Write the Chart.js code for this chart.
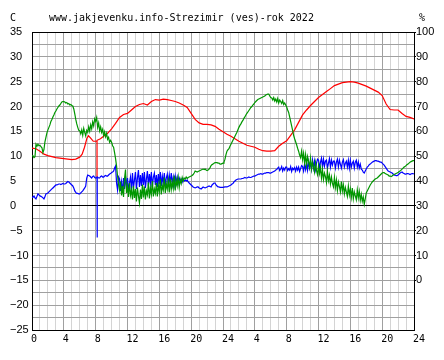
<!DOCTYPE html>
<html>
<head>
<meta charset="utf-8">
<title>Strezimir</title>
<script src="https://cdn.jsdelivr.net/npm/chart.js@4.4.1/dist/chart.umd.min.js"></script>
<style>
  html, body { margin: 0; padding: 0; background: #fff; }
  canvas { display: block; }
</style>
</head>
<body>
<canvas id="chart" width="444" height="360"></canvas>
<script>
// Header texts
const titleText = 'www.jakjevenku.info-Strezimir (ves)-rok 2022';
const leftUnit = 'C';
const rightUnit = '%';

// x axis: 48 hours, labelled every 4 hours as clock time
const hourLabels = ['0', '4', '8', '12', '16', '20', '24', '4', '8', '12', '16', '20', '24'];
const hourStep = 0.125;  // spacing of the humidity / dew point samples (7.5 min)

// Temperature (C) - red
const tempHours = [0, 0.5, 1, 1.5, 2, 2.5, 3, 3.5, 4, 4.5, 5, 5.5, 6, 6.3, 6.6, 6.9, 7.1, 7.4, 7.7, 8.17, 8.17, 8.17, 8.6,
  9, 9.5, 10, 10.5, 11, 11.5, 12, 12.5, 13, 13.5, 14, 14.5, 15, 15.5, 16, 16.5, 17, 17.5, 18, 18.5, 19, 19.5,
  20, 20.5, 21, 21.5, 22, 22.5, 23, 23.5, 24, 24.5, 25, 25.5, 26, 26.5, 27, 27.5, 28, 28.5, 29, 29.5,
  30, 30.5, 31, 31.5, 32, 32.5, 33, 33.5, 34, 34.5, 35, 35.5, 36, 36.5, 37, 37.5, 38, 38.5, 39, 39.5,
  40, 40.5, 41, 41.5, 42, 42.5, 43, 43.5, 44, 44.5, 45, 45.5, 46, 46.5, 47, 47.5, 48];
const tempC = [11.6, 11.5, 11.0, 10.4, 10.1, 9.9, 9.7, 9.6, 9.5, 9.4, 9.3, 9.4, 9.8, 10.4, 11.8, 13.6, 14.1, 13.6, 13.0, 13.0, 5.8, 13.2, 13.5,
  14.0, 14.6, 15.5, 16.6, 17.8, 18.4, 18.6, 19.3, 20.0, 20.4, 20.6, 20.3, 21.0, 21.4, 21.3, 21.5, 21.4, 21.2, 21.0, 20.7, 20.3, 19.8,
  18.6, 17.4, 16.7, 16.4, 16.4, 16.3, 16.0, 15.4, 14.9, 14.4, 14.0, 13.5, 13.0, 12.6, 12.2, 12.0, 11.8, 11.4, 11.1, 11.0,
  11.0, 11.1, 12.0, 12.6, 13.1, 14.2, 15.3, 16.8, 18.3, 19.3, 20.2, 21.0, 21.8, 22.4, 23.0, 23.6, 24.2, 24.5, 24.8, 24.9,
  25.0, 24.9, 24.7, 24.4, 24.1, 23.7, 23.3, 22.9, 22.2, 20.5, 19.4, 19.3, 19.3, 18.6, 18.0, 17.8, 17.5];

// Relative humidity (%) - green, 16 values per 2 hours
const humidity = [
  50.4, 50.0, 49.4, 49.8, 54.8, 54.0, 54.8, 54.2, 54.4, 53.8, 53.4, 51.4, 52.6, 55.8, 57.6, 59.4,
  60.6, 61.6, 62.6, 64.0, 64.8, 65.8, 66.6, 67.6, 68.2, 69.0, 69.6, 70.2, 70.6, 71.2, 71.8, 72.0,
  72.0, 71.8, 71.4, 71.6, 71.0, 71.2, 70.6, 70.8, 70.4, 70.2, 69.0, 67.0, 64.8, 63.0, 61.6, 60.4,
  60.2, 59.0, 60.6, 58.4, 61.2, 59.6, 58.2, 60.4, 59.6, 61.8, 60.0, 62.6, 61.0, 63.8, 62.2, 65.0,
  64.0, 65.6, 61.6, 63.4, 60.2, 61.8, 59.6, 60.8, 58.2, 59.8, 57.8, 59.2, 56.8, 57.6, 55.6, 56.4,
  55.6, 54.2, 53.6, 51.4, 49.0, 46.0, 42.0, 38.6, 36.4, 39.8, 34.2, 38.0, 33.6, 41.0, 44.6, 35.2,
  37.8, 33.6, 39.2, 34.2, 36.4, 32.6, 38.0, 33.2, 36.8, 31.8, 37.4, 34.0, 31.2, 36.6, 32.8, 38.6,
  33.4, 37.8, 32.6, 36.0, 34.4, 39.4, 33.0, 37.2, 34.6, 40.0, 33.8, 36.8, 35.0, 39.2, 33.8, 38.4,
  35.6, 40.8, 34.6, 38.2, 36.4, 41.4, 35.2, 39.0, 36.8, 40.2, 35.4, 41.0, 36.6, 39.6, 37.0, 42.2,
  36.2, 40.4, 38.0, 41.6, 37.4, 40.6, 39.0, 41.4, 40.0, 41.2, 40.8, 41.6, 41.0, 41.4, 41.6, 41.8,
  42.0, 42.2, 42.6, 43.2, 44.0, 43.8, 43.6, 43.8, 44.0, 44.2, 44.4, 44.6, 44.8, 44.6, 44.8, 44.4,
  44.2, 44.4, 44.8, 45.4, 46.2, 46.6, 46.8, 47.2, 47.4, 47.4, 47.4, 47.2, 47.2, 46.8, 46.8, 47.0,
  47.2, 47.6, 48.8, 50.6, 52.0, 52.6, 53.0, 54.0, 54.8, 55.6, 56.4, 57.2, 58.0, 58.8, 59.6, 60.6,
  61.6, 62.4, 63.0, 63.8, 64.4, 65.2, 65.8, 66.6, 67.2, 67.8, 68.4, 69.0, 69.6, 70.0, 70.6, 71.0,
  71.6, 72.0, 72.4, 72.8, 73.0, 73.2, 73.4, 73.6, 73.8, 74.0, 74.2, 74.6, 74.8, 75.0, 75.0, 74.2,
  73.6, 73.4, 72.6, 73.6, 72.2, 73.0, 71.8, 73.2, 71.4, 72.6, 72.0, 71.2, 72.4, 70.8, 71.4, 70.6,
  69.8, 68.6, 67.6, 65.8, 64.0, 62.2, 60.4, 58.4, 57.0, 55.8, 54.6, 53.2, 52.0, 50.4, 49.4, 52.0,
  48.6, 51.2, 47.2, 50.6, 46.4, 49.8, 47.8, 45.6, 49.2, 44.8, 47.6, 45.8, 43.6, 47.4, 44.2, 42.6,
  46.2, 43.0, 45.4, 41.2, 44.6, 40.6, 43.2, 41.8, 39.4, 43.8, 40.2, 42.4, 38.8, 41.6, 39.0, 37.6,
  41.4, 37.4, 40.4, 36.2, 39.6, 37.8, 35.6, 39.8, 36.0, 38.4, 34.8, 37.4, 35.6, 33.8, 38.0, 34.4,
  36.8, 33.4, 37.2, 32.8, 35.6, 34.0, 32.4, 36.4, 33.2, 35.8, 32.2, 34.6, 31.8, 33.6, 30.6, 32.8,
  35.2, 36.0, 36.8, 37.6, 38.4, 39.0, 39.6, 40.0, 40.4, 40.8, 41.0, 41.2, 41.6, 42.0, 42.4, 42.8,
  43.2, 43.4, 43.4, 43.0, 42.8, 42.6, 42.4, 42.0, 42.0, 41.8, 42.0, 42.4, 42.6, 42.8, 43.0, 43.2,
  43.4, 43.8, 44.0, 44.4, 44.8, 45.2, 45.6, 45.8, 46.2, 46.6, 46.8, 47.2, 47.6, 47.8, 48.0, 48.2,
  48.2
];

// Dew point (C) - blue, 16 values per 2 hours
const dewPoint = [
  1.7, 1.8, 2.0, 1.6, 1.4, 1.9, 2.4, 2.2, 2.0, 1.9, 1.8, 1.6, 1.4, 1.8, 2.4, 2.5,
  2.6, 2.8, 3.0, 3.2, 3.4, 3.6, 3.8, 4.0, 4.2, 4.2, 4.3, 4.4, 4.4, 4.3, 4.4, 4.5,
  4.4, 4.4, 4.5, 4.7, 4.9, 4.8, 4.6, 4.4, 4.2, 4.0, 3.6, 3.0, 2.7, 2.5, 2.5, 2.4,
  2.4, 2.6, 2.8, 3.0, 3.3, 3.6, 4.0, 5.6, 6.2, 6.1, 6.0, 5.8, 5.6, 5.9, 6.0, 5.7,
  5.6, 5.7, 5.8, 5.6, 5.6, 5.9, 6.0, 5.8, 5.8, 6.0, 6.1, 6.0, 6.0, 6.2, 6.4, 6.5,
  6.7, 6.8, 7.0, 7.6, 8.0, 4.6, 3.2, 5.8, 5.4, 3.0, 4.8, 2.6, 5.6, 3.4, 6.0, 3.8,
  5.6, 3.0, 4.6, 5.8, 3.2, 6.6, 3.6, 5.2, 6.8, 3.4, 5.6, 7.2, 3.8, 6.2, 4.0, 6.6,
  4.2, 6.8, 3.6, 5.4, 7.0, 4.0, 6.4, 4.6, 6.8, 3.8, 5.8, 6.6, 4.2, 6.2, 3.8, 6.4,
  4.4, 6.8, 4.0, 6.0, 4.6, 6.6, 4.2, 5.6, 6.4, 4.0, 6.2, 4.6, 6.6, 4.4, 5.8, 4.2,
  6.0, 4.6, 5.8, 4.6, 5.6, 5.0, 5.4, 4.8, 5.4, 5.0, 5.2, 5.0, 5.2, 4.8, 4.6, 4.4,
  4.2, 4.0, 3.8, 3.7, 3.6, 3.7, 3.8, 3.8, 3.6, 3.5, 3.4, 3.6, 3.8, 3.7, 3.6, 3.7,
  3.8, 3.9, 4.0, 3.9, 3.8, 4.2, 4.4, 4.6, 4.6, 4.2, 4.0, 3.8, 3.8, 3.7, 3.7, 3.7,
  3.7, 3.7, 3.8, 3.8, 3.8, 3.9, 4.0, 4.1, 4.2, 4.4, 4.5, 4.8, 5.0, 5.2, 5.3, 5.4,
  5.4, 5.4, 5.4, 5.5, 5.5, 5.6, 5.7, 5.6, 5.6, 5.7, 5.8, 5.7, 5.7, 5.8, 5.9, 6.0,
  6.0, 6.1, 6.2, 6.3, 6.4, 6.4, 6.5, 6.4, 6.4, 6.5, 6.6, 6.6, 6.7, 6.7, 6.7, 6.6,
  6.6, 6.7, 6.8, 6.9, 7.0, 7.2, 7.3, 7.6, 7.8, 7.1, 7.4, 7.9, 7.0, 7.6, 7.2, 7.8,
  7.8, 7.1, 7.5, 7.2, 7.9, 6.9, 7.6, 7.3, 7.7, 7.0, 7.8, 7.2, 7.8, 6.9, 7.5, 8.1,
  7.9, 7.0, 8.4, 7.3, 8.6, 7.2, 8.9, 7.6, 8.8, 7.4, 9.2, 7.6, 9.0, 7.3, 8.6, 9.4,
  9.2, 7.6, 8.8, 9.6, 7.8, 9.4, 8.0, 9.0, 9.2, 7.6, 8.6, 9.5, 7.8, 9.2, 8.2, 9.0,
  9.0, 7.6, 8.8, 9.4, 7.8, 9.2, 8.4, 7.6, 8.8, 9.3, 7.8, 8.6, 9.0, 7.8, 9.2, 7.6,
  9.2, 7.8, 8.6, 9.0, 7.6, 8.8, 9.2, 7.8, 8.8, 7.6, 8.4, 7.4, 7.2, 6.8, 6.6, 7.0,
  7.4, 7.8, 8.0, 8.3, 8.4, 8.6, 8.8, 8.9, 9.0, 9.1, 9.1, 9.0, 9.0, 8.9, 8.8, 8.8,
  8.6, 8.4, 8.2, 7.9, 7.6, 7.3, 7.0, 6.9, 6.8, 6.7, 6.6, 6.4, 6.2, 6.2, 6.1, 6.1,
  6.2, 6.4, 6.6, 6.7, 6.8, 6.6, 6.5, 6.4, 6.4, 6.5, 6.5, 6.4, 6.3, 6.4, 6.5, 6.5,
  6.4
];
// short sensor glitch just after 8:00
const dewGlitchHours = [8.17, 8.17, 8.17];
const dewGlitchC = [5.7, -6.4, 5.7];

if (humidity.length !== 385 || dewPoint.length !== 385 || tempHours.length !== tempC.length) {
  throw new Error('data length: ' + humidity.length + ' ' + dewPoint.length + ' ' + tempHours.length + '/' + tempC.length);
}

// Build {x, y} points
function pairPoints(hours, values) {
  return values.map((v, i) => ({ x: hours[i], y: v }));
}
function stepPoints(values) {
  return values.map((v, i) => ({ x: i * hourStep, y: v }));
}
const dewPoints = stepPoints(dewPoint)
  .concat(pairPoints(dewGlitchHours, dewGlitchC))
  .sort((a, b) => a.x - b.x);

const darkGrid = '#a0a0a0';
const lightGrid = '#d4d4d4';

// Header: unit letters and title
const headerText = {
  id: 'headerText',
  afterDraw(chart) {
    const c = chart.ctx;
    c.save();
    c.fillStyle = '#000';
    c.font = '10px "DejaVu Sans Mono"';
    c.textBaseline = 'alphabetic';
    c.textAlign = 'left';
    c.fillText(leftUnit, 10, 21);
    c.fillText(titleText, 49, 21);
    c.fillText(rightUnit, 419, 21);
    c.restore();
  }
};

const ctx = document.getElementById('chart').getContext('2d');
const chart = new Chart(ctx, {
  type: 'line',
  data: {
    datasets: [
      {
        label: 'Vlhkost',
        data: stepPoints(humidity),
        yAxisID: 'yRight',
        borderColor: '#009600',
        borderWidth: 1.2,
        order: 0
      },
      {
        label: 'Rosny bod',
        data: dewPoints,
        yAxisID: 'y',
        borderColor: '#0000ff',
        borderWidth: 1.2,
        order: 1
      },
      {
        label: 'Teplota',
        data: pairPoints(tempHours, tempC),
        yAxisID: 'y',
        borderColor: '#ff0000',
        borderWidth: 1.2,
        order: 2
      }
    ]
  },
  options: {
    responsive: false,
    animation: false,
    devicePixelRatio: 1,
    layout: { padding: { top: 32, left: 10, right: 0, bottom: 0 } },
    elements: { point: { radius: 0 }, line: { tension: 0 } },
    plugins: { legend: { display: false }, tooltip: { enabled: false } },
    scales: {
      x: {
        type: 'linear',
        min: 0,
        max: 48,
        grid: {
          drawTicks: false,
          color: c => (c.tick.value % 4 === 0 ? darkGrid : lightGrid)
        },
        border: { color: '#000' },
        ticks: {
          stepSize: 1,
          autoSkip: false,
          maxTicksLimit: 100,
          maxRotation: 0,
          align: 'start',
          labelOffset: -1,
          padding: 3,
          color: '#000',
          font: { family: 'DejaVu Sans Mono', size: 10 },
          callback: v => (v % 4 === 0 ? hourLabels[v / 4] : '')
        },
        afterFit: s => { s.height = 30; }
      },
      y: {
        position: 'left',
        min: -25,
        max: 35,
        grid: {
          drawTicks: false,
          color: c => (c.tick.value === 0 || c.tick.value === 35 ? '#000' : darkGrid)
        },
        border: { color: '#000' },
        ticks: {
          stepSize: 2.5,
          autoSkip: false,
          maxTicksLimit: 100,
          crossAlign: 'far',
          padding: 0,
          color: '#000',
          font: { family: 'Liberation Sans', size: 11 },
          callback: v => (v % 5 === 0 ? String(v).replace('-', '\u2212') : '')
        },
        afterFit: s => { s.width = 22; }
      },
      yRight: {
        position: 'right',
        min: -20,
        max: 100,
        grid: {
          drawOnChartArea: false,
          tickLength: 2,
          color: c => (c.tick.value >= 0 ? '#000' : 'rgba(0,0,0,0)')
        },
        border: { color: '#000' },
        ticks: {
          stepSize: 10,
          autoSkip: false,
          padding: 0,
          color: '#000',
          font: { family: 'Liberation Sans', size: 11 },
          callback: v => (v >= 0 ? String(v) : '')
        },
        afterFit: s => { s.width = 30; }
      }
    }
  },
  plugins: [headerText]
});
</script>
</body>
</html>
